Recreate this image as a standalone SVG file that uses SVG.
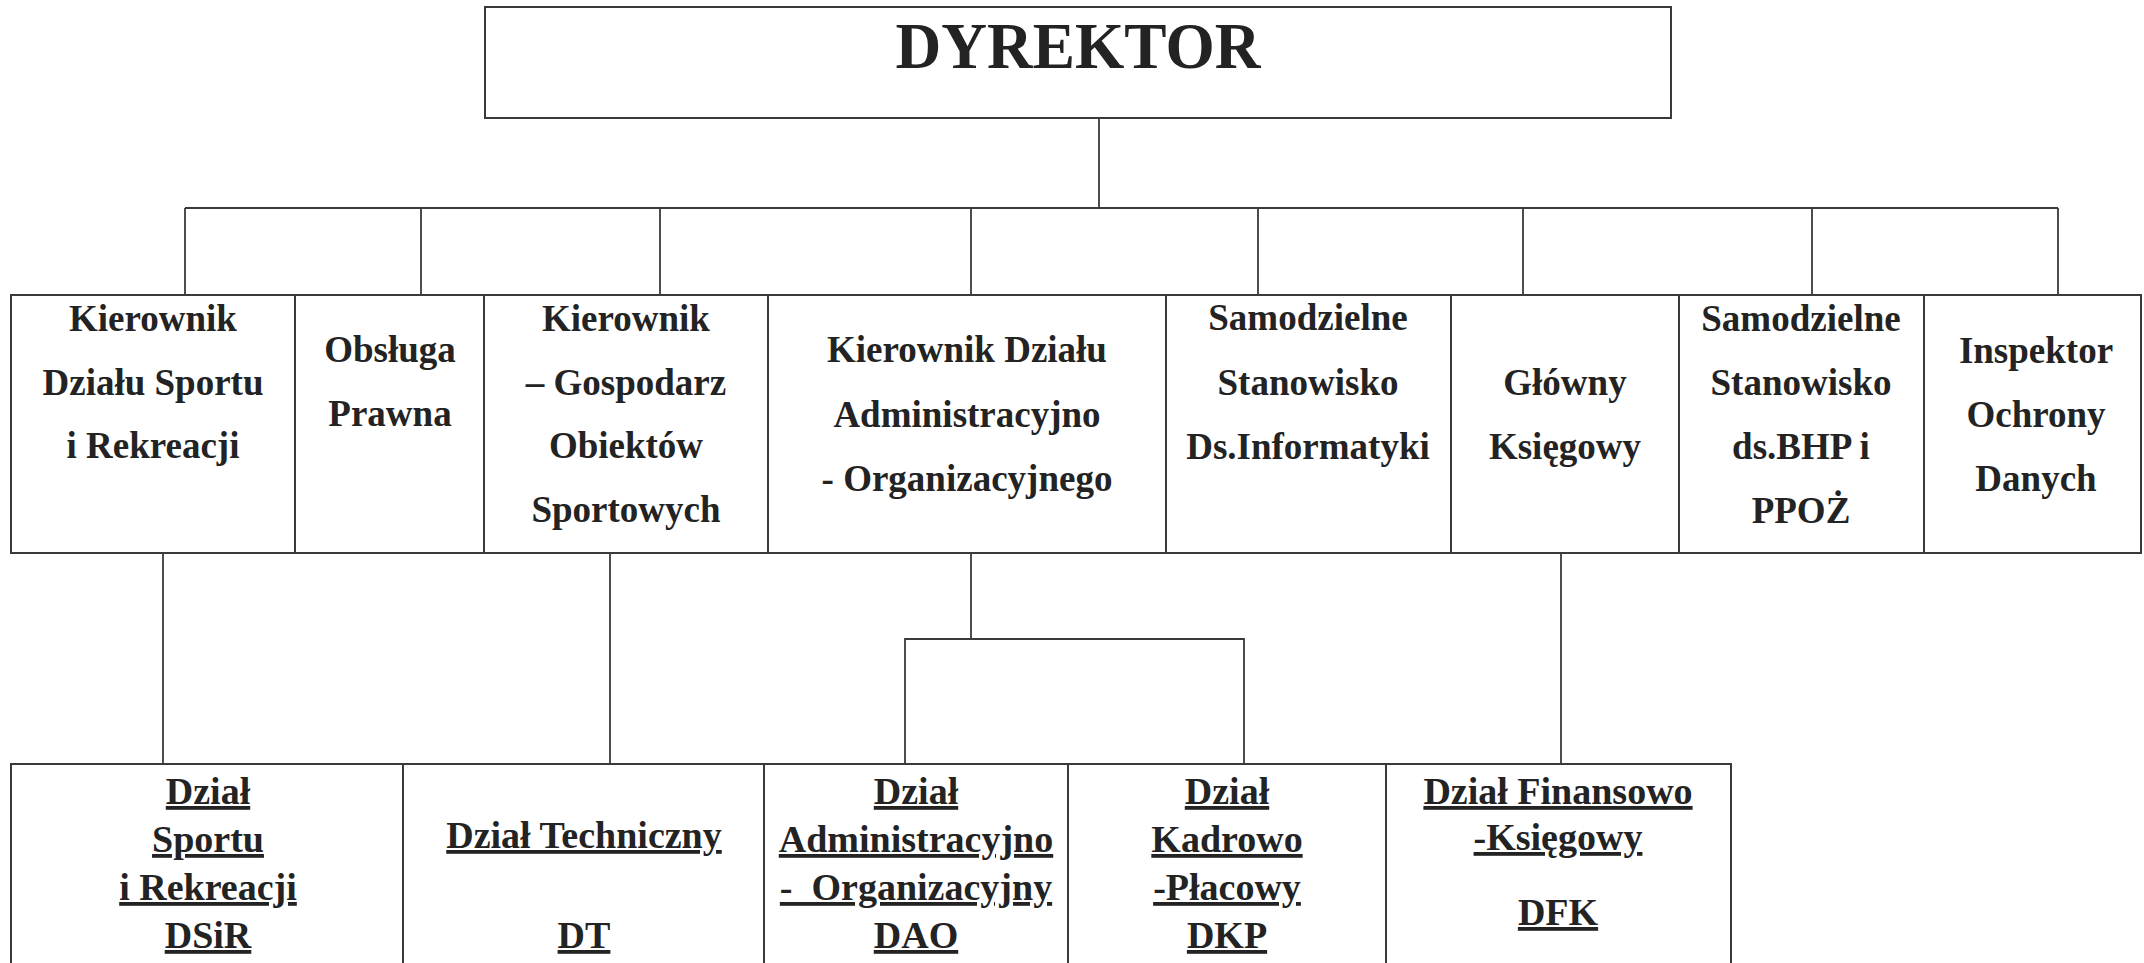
<svg xmlns="http://www.w3.org/2000/svg" width="2144" height="963" viewBox="0 0 2144 963">
<style>
.bg{fill:#ffffff}
.box{fill:none;stroke:#3a3a3a;stroke-width:2}
.ln{fill:none;stroke:#3a3a3a;stroke-width:1.8}
text{font-family:"Liberation Serif","Times New Roman",serif;font-weight:bold;fill:#232323;text-anchor:middle}
.t{font-size:37px}
.b{font-size:38px;text-decoration:underline}
.d{font-size:66px}
</style>
<rect class="bg" x="0" y="0" width="2144" height="963"/>
<g id="connectors">
<line class="ln" x1="1099" y1="118" x2="1099" y2="208"/>
<line class="ln" x1="185" y1="208" x2="2058" y2="208"/>
<line class="ln" x1="185" y1="208" x2="185" y2="295"/>
<line class="ln" x1="421" y1="208" x2="421" y2="295"/>
<line class="ln" x1="660" y1="208" x2="660" y2="295"/>
<line class="ln" x1="971" y1="208" x2="971" y2="295"/>
<line class="ln" x1="1258" y1="208" x2="1258" y2="295"/>
<line class="ln" x1="1523" y1="208" x2="1523" y2="295"/>
<line class="ln" x1="1812" y1="208" x2="1812" y2="295"/>
<line class="ln" x1="2058" y1="208" x2="2058" y2="295"/>
<line class="ln" x1="163" y1="553" x2="163" y2="764"/>
<line class="ln" x1="610" y1="553" x2="610" y2="764"/>
<polyline class="ln" points="971,553 971,639"/>
<polyline class="ln" points="905,764 905,639 1244,639 1244,764"/>
<line class="ln" x1="1561" y1="553" x2="1561" y2="764"/>
</g>
<g id="dyrektor">
<rect class="box" x="485" y="7" width="1186" height="111"/>
<text class="d" x="1078" y="68" textLength="365" lengthAdjust="spacingAndGlyphs">DYREKTOR</text>
</g>
<g id="k-sport">
<rect class="box" x="11" y="295" width="284" height="258"/>
<text class="t" x="153" y="331">Kierownik</text>
<text class="t" x="153" y="395">Działu Sportu</text>
<text class="t" x="153" y="458">i Rekreacji</text>
</g>
<g id="prawna">
<rect class="box" x="295" y="295" width="189" height="258"/>
<text class="t" x="390" y="362">Obsługa</text>
<text class="t" x="390" y="426">Prawna</text>
</g>
<g id="gospodarz">
<rect class="box" x="484" y="295" width="284" height="258"/>
<text class="t" x="626" y="331">Kierownik</text>
<text class="t" x="626" y="395">– Gospodarz</text>
<text class="t" x="626" y="458">Obiektów</text>
<text class="t" x="626" y="522">Sportowych</text>
</g>
<g id="k-admin">
<rect class="box" x="768" y="295" width="398" height="258"/>
<text class="t" x="967" y="362">Kierownik Działu</text>
<text class="t" x="967" y="427">Administracyjno</text>
<text class="t" x="967" y="491">- Organizacyjnego</text>
</g>
<g id="informatyka">
<rect class="box" x="1166" y="295" width="285" height="258"/>
<text class="t" x="1308" y="330">Samodzielne</text>
<text class="t" x="1308" y="395">Stanowisko</text>
<text class="t" x="1308" y="459">Ds.Informatyki</text>
</g>
<g id="ksiegowy">
<rect class="box" x="1451" y="295" width="228" height="258"/>
<text class="t" x="1565" y="395">Główny</text>
<text class="t" x="1565" y="459">Księgowy</text>
</g>
<g id="bhp">
<rect class="box" x="1679" y="295" width="245" height="258"/>
<text class="t" x="1801" y="331">Samodzielne</text>
<text class="t" x="1801" y="395">Stanowisko</text>
<text class="t" x="1801" y="459">ds.BHP i</text>
<text class="t" x="1801" y="523">PPOŻ</text>
</g>
<g id="iod">
<rect class="box" x="1924" y="295" width="217" height="258"/>
<text class="t" x="2036" y="363">Inspektor</text>
<text class="t" x="2036" y="427">Ochrony</text>
<text class="t" x="2036" y="491">Danych</text>
</g>
<g id="dsir">
<rect class="box" x="11" y="764" width="392" height="240"/>
<text class="b" x="208" y="804">Dział</text>
<text class="b" x="208" y="852">Sportu</text>
<text class="b" x="208" y="900">i Rekreacji</text>
<text class="b" x="208" y="948">DSiR</text>
</g>
<g id="dt">
<rect class="box" x="403" y="764" width="361" height="240"/>
<text class="b" x="584" y="848">Dział Techniczny</text>
<text class="b" x="584" y="948">DT</text>
</g>
<g id="dao">
<rect class="box" x="764" y="764" width="304" height="240"/>
<text class="b" x="916" y="804">Dział</text>
<text class="b" x="916" y="852">Administracyjno</text>
<text class="b" x="916" y="900" style="white-space:pre">-  Organizacyjny</text>
<text class="b" x="916" y="948">DAO</text>
</g>
<g id="dkp">
<rect class="box" x="1068" y="764" width="318" height="240"/>
<text class="b" x="1227" y="804">Dział</text>
<text class="b" x="1227" y="852">Kadrowo</text>
<text class="b" x="1227" y="900">-Płacowy</text>
<text class="b" x="1227" y="948">DKP</text>
</g>
<g id="dfk">
<rect class="box" x="1386" y="764" width="345" height="240"/>
<text class="b" x="1558" y="804">Dział Finansowo</text>
<text class="b" x="1558" y="850">-Księgowy</text>
<text class="b" x="1558" y="925">DFK</text>
</g>
</svg>
